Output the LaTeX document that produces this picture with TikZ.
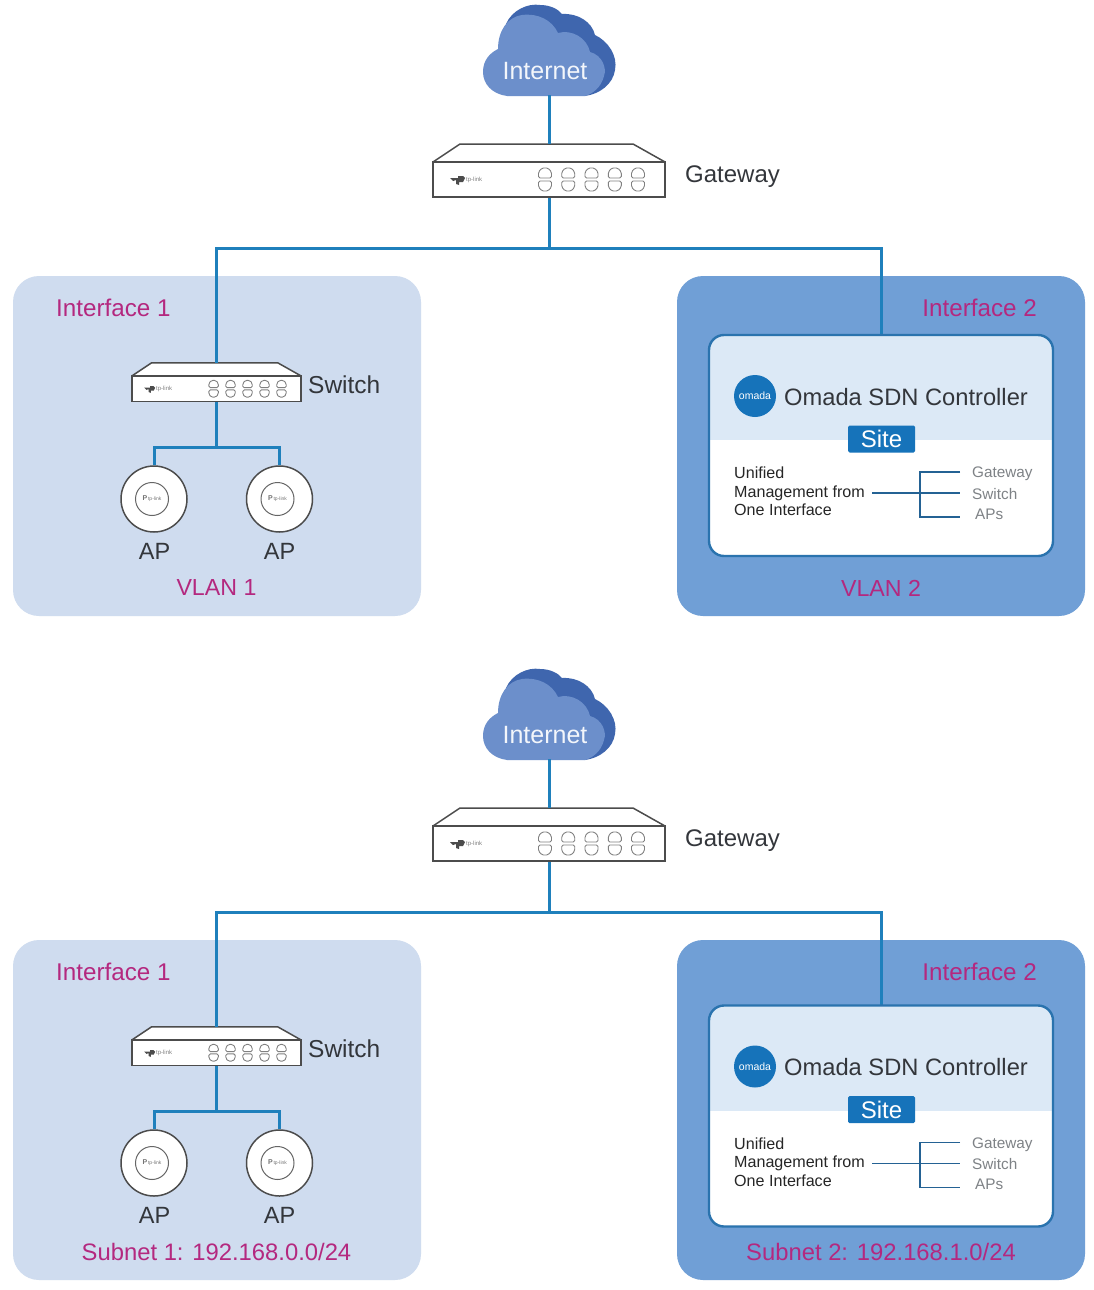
\documentclass[tikz,border=0pt]{standalone}
\usepackage{fontspec}
\setmainfont{Liberation Sans}
\definecolor{linkblue}{HTML}{1F80BC}
\definecolor{panelA}{HTML}{CFDCEF}
\definecolor{panelB}{HTML}{709FD6}
\definecolor{cardtop}{HTML}{DCE9F6}
\definecolor{cardedge}{HTML}{2A73AE}
\definecolor{pinktext}{HTML}{B4287F}
\definecolor{darktext}{HTML}{33363B}
\definecolor{graytext}{HTML}{7E8286}
\definecolor{cloudback}{HTML}{3F66AE}
\definecolor{cloudfront}{HTML}{6C8FCB}
\definecolor{omadablue}{HTML}{1673BA}
\newcommand{\fs}[1]{\fontsize{#1}{#1}\selectfont}
\tikzset{
  x=1pt,y=-1pt,
  link/.style={draw=linkblue,line width=3pt},
  treeline/.style={draw=cardedge!85!black,line width=1.7pt},
  devfront/.style={draw=black!70,fill=white,line width=1.5pt,minimum width=232pt,minimum height=35pt,inner sep=0pt,transform shape},
  devtop/.style={draw=black!70,fill=white,line width=1.5pt,line join=round},
  portshape/.style={draw=black!50,line width=0.9pt,rounded corners=1.5pt,fill=white},
  panelbox/.style={rounded corners=26pt,draw=none},
  label/.style={font=\fs{24},text=darktext,inner sep=0pt},
  pinklabel/.style={font=\fs{24.2},text=pinktext,inner sep=0pt},
  small/.style={font=\fs{15.3},text=graytext,inner ysep=0pt,anchor=west},
}
% name, cx, top of front face, scale
\newcommand{\devicebox}[4]{%
  \begin{scope}[shift={(#2,#3)},scale=#4]
    \path[devtop] (-116,0) -- (-89,-18) -- (84,-18) -- (116,0) -- cycle;
    \node[devfront] (#1) at (0,17.5) {};
    \coordinate (#1top) at (0,-18);
    \foreach \px in {-4,19.2,42.5,65.8,89}{
      \path[portshape] (\px-6.5,16) -- (\px-6.5,10) -- (\px-3,6) -- (\px+3,6) -- (\px+6.5,10) -- (\px+6.5,16) -- cycle;
      \path[portshape] (\px-6.5,19) -- (\px-6.5,25) -- (\px-3,29) -- (\px+3,29) -- (\px+6.5,25) -- (\px+6.5,19) -- cycle;
    }
    \fill[black!70] (-99,16) -- (-91,16) -- (-91,14) -- (-86,14) -- (-84,16) -- (-86,20) -- (-90,20) -- (-90,23) -- (-93,22) -- (-93,18) -- (-96,19) -- cycle;
    \node[font=\fs{6},text=black!50,inner sep=0pt,anchor=west] (#1logo) at (-83,18) {tp-link};
  \end{scope}}
% name, cx, cy
\newcommand{\apdevice}[3]{%
  \node[circle,draw=black!70,fill=white,line width=1.5pt,minimum size=66pt,inner sep=0pt] (#1) at (#2,#3) {};
  \node[circle,draw=black!60,line width=1pt,minimum size=33pt,inner sep=0pt,xshift=-2pt] (#1logo) at (#2,#3) {};
  \node[font=\fs{5},text=black!55,inner sep=0pt,xshift=-2pt] (#1mark) at (#2,#3) {\textbf{\fs{7}P}\,tp-link};
}
% prefix, offset of the scheme, offset of the card, left bottom label, right bottom label
\newcommand{\scheme}[5]{%
\begin{scope}[yshift=-#2pt]
  \path[panelbox,fill=panelA] (13,276) rectangle (421,616);
  \path[panelbox,fill=panelB] (677,276) rectangle (1085,616);
  % cloud
  \fill[cloudback] (506,24) .. controls (512,10) and (528,3) .. (540,5)
     .. controls (550,5) and (558,9) .. (562,14)
     .. controls (578,13) and (592,22) .. (595,35)
     .. controls (608,41) and (618,56) .. (615,70)
     .. controls (613,84) and (600,94) .. (585,96) -- (560,80) -- cycle;
  \fill[cloudfront] (507,96) .. controls (492,94) and (483,84) .. (483,72)
     .. controls (483,60) and (490,53) .. (498,49)
     .. controls (498,30) and (508,17) .. (522,15)
     .. controls (538,13) and (552,20) .. (558,33)
     .. controls (572,29) and (587,38) .. (590,52)
     .. controls (602,55) and (607,68) .. (604,76)
     .. controls (601,88) and (592,94) .. (585,96) -- cycle;
  \node[font=\fs{25},text=white!92!cloudfront,inner sep=0pt] (#1net) at (545,71) {Internet};
  \coordinate (#1cloud) at (549,95);
  \coordinate (#1bus) at (549,248);
  % links
  \begin{scope}[yshift=-#3pt]
    \coordinate (#1cardtop) at (881,335);
  \end{scope}
  \devicebox{#1gw}{549}{162}{1}
  \devicebox{#1sw}{216.5}{376}{0.73}
  \coordinate (#1drop) at (216.5,447);
  \apdevice{#1apa}{154}{499}
  \apdevice{#1apb}{279.5}{499}
  \draw[link] (#1cloud) -- (#1gwtop);
  \draw[link] (#1gw.south) -- (#1bus);
  \draw[link] (#1swtop) |- (#1bus);
  \draw[link] (#1cardtop) |- (#1bus);
  \draw[link] (#1sw.south) -- (#1drop);
  \draw[link] (#1apa.north) |- (#1drop);
  \draw[link] (#1apb.north) |- (#1drop);
  \node[label,anchor=west] (#1gwname) at (685,177) {Gateway};
  \node[label,anchor=west,font=\fs{24.5}] (#1swname) at (308,385) {Switch};
  \node[label,font=\fs{23.5}] (#1apaname) at (154.5,551) {AP};
  \node[label,font=\fs{23.5}] (#1apbname) at (279.5,551) {AP};
  \node[pinklabel,anchor=west] (#1ifa) at (56,308) {Interface 1};
  \node[pinklabel,anchor=east] (#1ifb) at (1037,308) {Interface 2};
  \node[pinklabel,font=\fs{23.2}] (#1bota) at (216.5,588) {#4};
  \node[pinklabel,font=\fs{23.2}] (#1botb) at (881,588) {#5};
  \begin{scope}[yshift=-#3pt]
    \begin{scope}
      \clip[rounded corners=15pt] (709,335) rectangle (1053,556);
      \fill[white] (709,335) rectangle (1053,556);
      \fill[cardtop] (709,335) rectangle (1053,440);
    \end{scope}
    \draw[cardedge,line width=2.4pt,rounded corners=15pt] (709,335) rectangle (1053,556);
    \node[circle,fill=omadablue,minimum size=42pt,inner sep=0pt,font=\fs{10.5},text=white] (#1omada) at (755,396) {omada};
    \node[label,anchor=west,font=\fs{23.7}] (#1ctrl) at (784,397) {Omada SDN Controller};
    \node[rounded corners=1.5pt,fill=omadablue,text=white,font=\fs{24},minimum width=67pt,minimum height=27pt,inner sep=0pt] (#1site) at (881.5,439) {Site};
    \node[font=\fs{16.1},text=black!85,align=left,anchor=west,inner sep=0pt] (#1mgmt) at (734,491.5) {Unified\\[2.6pt]Management from\\[2.4pt]One Interface};
    \node[small,inner xsep=12pt] (#1lgw) at (960,474) {Gateway};
    \node[small,inner xsep=12pt] (#1lsw) at (960,494) {Switch};
    \node[small,inner xsep=15pt] (#1lap) at (960,514) {APs};
    \coordinate (#1spine) at (920,493);
    \coordinate (#1tl) at (960,472);
    \coordinate (#1tm) at (960,493);
    \coordinate (#1tr) at (960,517);
    \coordinate (#1ml) at (872,493);
    \draw[treeline] (#1ml) -- (#1tm);
    \draw[treeline] (#1tl) -| (#1spine) |- (#1tr);
  \end{scope}
\end{scope}}
\begin{document}
\begin{tikzpicture}
  \useasboundingbox (0,0) rectangle (1093,1290);
  \fill[white] (0,0) rectangle (1093,1290);
  \scheme{a}{0}{0}{VLAN 1}{VLAN 2}
  \scheme{b}{664}{6.5}{\fs{23.8}Subnet 1: 192.168.0.0/24}{\fs{23.8}Subnet 2: 192.168.1.0/24}
\end{tikzpicture}
\end{document}
